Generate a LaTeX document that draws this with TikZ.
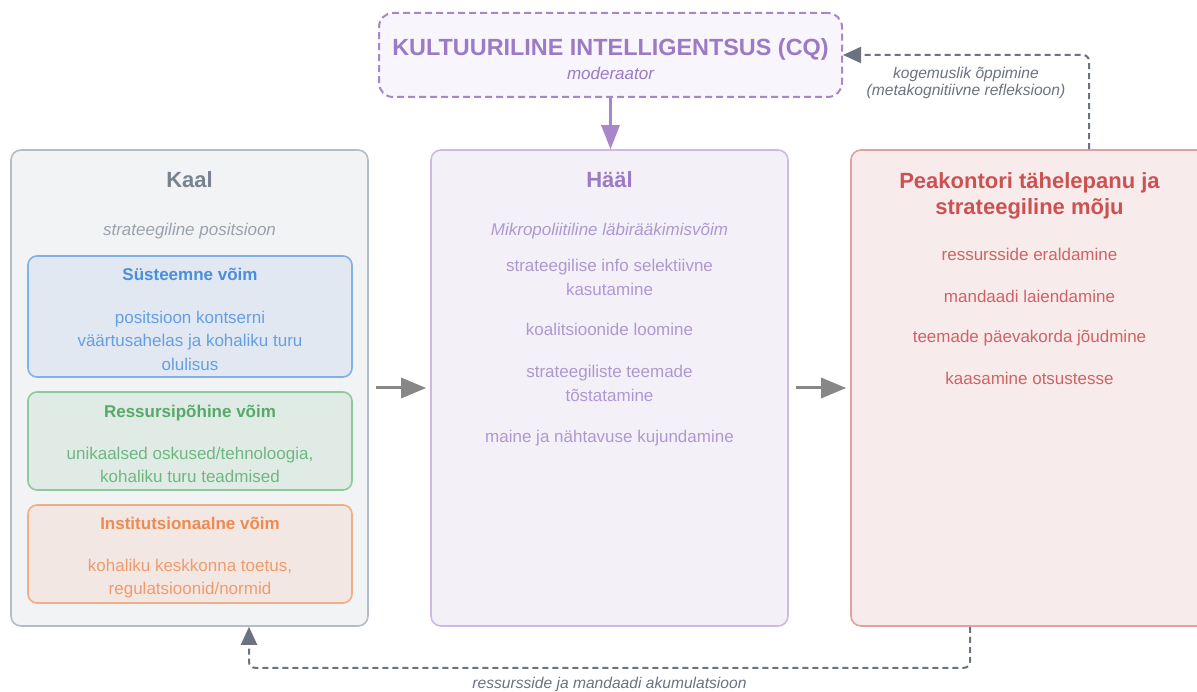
\documentclass[tikz,border=0pt]{standalone}
\usepackage{fontspec}
\setmainfont{Liberation Sans}
\usetikzlibrary{arrows.meta,positioning,calc}
\definecolor{kaalline}{HTML}{B4BCC5}
\definecolor{kaalfill}{HTML}{F1F3F5}
\definecolor{kaaltext}{HTML}{78838F}
\definecolor{kaalsub}{HTML}{9AA3AD}
\definecolor{sysline}{HTML}{80B1E8}
\definecolor{sysfill}{HTML}{E1E8F2}
\definecolor{systext}{HTML}{4A8EDC}
\definecolor{resline}{HTML}{8CCB99}
\definecolor{resfill}{HTML}{E1EBE6}
\definecolor{restext}{HTML}{55AA6A}
\definecolor{instline}{HTML}{F2AD82}
\definecolor{instfill}{HTML}{F3E7E3}
\definecolor{insttext}{HTML}{EC8B52}
\definecolor{haalline}{HTML}{CDB9E3}
\definecolor{haalfill}{HTML}{F3F1F7}
\definecolor{haaltext}{HTML}{9A7BC4}
\definecolor{haalsub}{HTML}{AF98D2}
\definecolor{hqline}{HTML}{E3A0A0}
\definecolor{hqfill}{HTML}{F7EBEB}
\definecolor{hqtext}{HTML}{CC5252}
\definecolor{cqline}{HTML}{A786CB}
\definecolor{cqfill}{HTML}{F8F5FC}
\definecolor{arrowgray}{HTML}{878787}
\definecolor{fbgray}{HTML}{6B7280}
\tikzset{
  panel/.style={draw, rounded corners=10pt, line width=1.6pt, inner sep=0pt,
    minimum width=357pt, minimum height=476pt},
  subpanel/.style={draw, rounded corners=9pt, line width=1.6pt, inner sep=0pt,
    minimum width=324pt},
  cqbox/.style={draw=cqline, fill=cqfill, rounded corners=14pt, line width=2pt,
    dash pattern=on 7pt off 4pt, inner sep=0pt, minimum width=463pt, minimum height=84pt},
  headtitle/.style={font=\fontsize{22}{26}\selectfont\bfseries, align=center, inner sep=0pt},
  subhead/.style={font=\fontsize{17}{23}\selectfont\itshape, align=center, inner sep=0pt},
  smalltitle/.style={font=\fontsize{17}{23}\selectfont\bfseries, align=center, inner sep=0pt},
  bodytext/.style={font=\fontsize{17}{23.5}\selectfont, align=center, inner sep=0pt},
  fblabel/.style={font=\fontsize{15.6}{17.5}\selectfont\itshape, text=fbgray, align=center, inner sep=0pt},
  grayarrow/.style={-{Triangle[length=25pt,width=20pt]}, line width=3pt, draw=arrowgray},
  cqarrow/.style={-{Triangle[length=24pt,width=18pt]}, line width=3pt, draw=cqline},
  feedback/.style={-{Triangle[length=18pt,width=16pt]}, line width=2pt, draw=fbgray,
    dash pattern=on 6pt off 4pt, rounded corners=6pt}
}
\begin{document}
\begin{tikzpicture}[x=1pt, y=1pt]
  \useasboundingbox (0,0) rectangle (1197,691);
  \clip (0,0) rectangle (1197,691);

  % moderator on top
  \node[cqbox] (cq) at (610.5,636) {};
  \node[headtitle, font=\fontsize{23.4}{26}\selectfont\bfseries, text=haaltext, yshift=-37pt] (cqtitle) at (cq.north) {KULTUURILINE INTELLIGENTSUS (CQ)};
  \node[subhead, text=haaltext, yshift=-61pt] (cqsub) at (cq.north) {moderaator};

  % three main panels
  \node[panel, draw=kaalline, fill=kaalfill] (kaal) at (189.5,303) {};
  \node[panel, draw=haalline, fill=haalfill] (haal) at (609.5,303) {};
  \node[panel, draw=hqline, fill=hqfill] (hq) at (1029.5,303) {};

  % Kaal
  \node[headtitle, text=kaaltext, yshift=-30pt] (kaaltitle) at (kaal.north) {Kaal};
  \node[subhead, text=kaalsub, yshift=-82pt] (kaalsub) at (kaal.north) {strateegiline positsioon};

  \node[subpanel, draw=sysline, fill=sysfill, minimum height=121pt] (sys) at (190,374.5) {};
  \node[smalltitle, text=systext, yshift=-19pt] (systitle) at (sys.north) {Süsteemne võim};
  \node[bodytext, text=systext!85!white, yshift=-85.5pt] (sysbody) at (sys.north)
    {positsioon kontserni\\väärtusahelas ja kohaliku turu\\olulisus};

  \node[subpanel, draw=resline, fill=resfill, minimum height=98pt] (res) at (190,250) {};
  \node[smalltitle, text=restext, yshift=-22pt] (restitle) at (res.north) {Ressursipõhine võim};
  \node[bodytext, text=restext!85!white, yshift=-73.5pt] (resbody) at (res.north)
    {unikaalsed oskused/tehnoloogia,\\kohaliku turu teadmised};

  \node[subpanel, draw=instline, fill=instfill, minimum height=98pt] (inst) at (190,137) {};
  \node[smalltitle, text=insttext, yshift=-19pt] (insttitle) at (inst.north) {Institutsionaalne võim};
  \node[bodytext, text=insttext!85!white, yshift=-74.5pt] (instbody) at (inst.north)
    {kohaliku keskkonna toetus,\\regulatsioonid/normid};

  % Hääl
  \node[headtitle, text=haaltext, yshift=-30pt] (haaltitle) at (haal.north) {Hääl};
  \node[subhead, text=haalsub, yshift=-82pt] (haalsub) at (haal.north) {Mikropoliitiline läbirääkimisvõim};
  \node[bodytext, text=haalsub, yshift=-128pt] (haal1) at (haal.north) {strateegilise info selektiivne\\kasutamine};
  \node[bodytext, text=haalsub, yshift=-180pt] (haal2) at (haal.north) {koalitsioonide loomine};
  \node[bodytext, text=haalsub, yshift=-234pt] (haal3) at (haal.north) {strateegiliste teemade\\tõstatamine};
  \node[bodytext, text=haalsub, yshift=-289pt] (haal4) at (haal.north) {maine ja nähtavuse kujundamine};

  % Peakontori tähelepanu
  \node[headtitle, text=hqtext, yshift=-47pt] (hqtitle) at (hq.north) {Peakontori tähelepanu ja\\strateegiline mõju};
  \node[bodytext, text=hqtext!90!white, yshift=-105pt] (hq1) at (hq.north) {ressursside eraldamine};
  \node[bodytext, text=hqtext!90!white, yshift=-147pt] (hq2) at (hq.north) {mandaadi laiendamine};
  \node[bodytext, text=hqtext!90!white, yshift=-189pt] (hq3) at (hq.north) {teemade päevakorda jõudmine};
  \node[bodytext, text=hqtext!90!white, yshift=-229pt] (hq4) at (hq.north) {kaasamine otsustesse};

  % main flow
  \draw[cqarrow] (cq.south) -- (cq.south |- haal.north);
  \draw[grayarrow, shorten <=7pt, shorten >=4pt] (kaal) -- (haal);
  \draw[grayarrow, shorten <=7pt, shorten >=4pt] (haal) -- (hq);

  % feedback loops
  \draw[feedback] ([xshift=59.5pt]hq.north) |- node[fblabel, pos=0.75, yshift=-28pt]
    {kogemuslik õppimine\\(metakognitiivne refleksioon)} (cq.east);
  \draw[feedback] ([xshift=-59.5pt]hq.south) -- ++(0,-41) -| node[fblabel, pos=0.25, yshift=-17pt]
    {ressursside ja mandaadi akumulatsioon} ([xshift=59.5pt]kaal.south);
\end{tikzpicture}
\end{document}
